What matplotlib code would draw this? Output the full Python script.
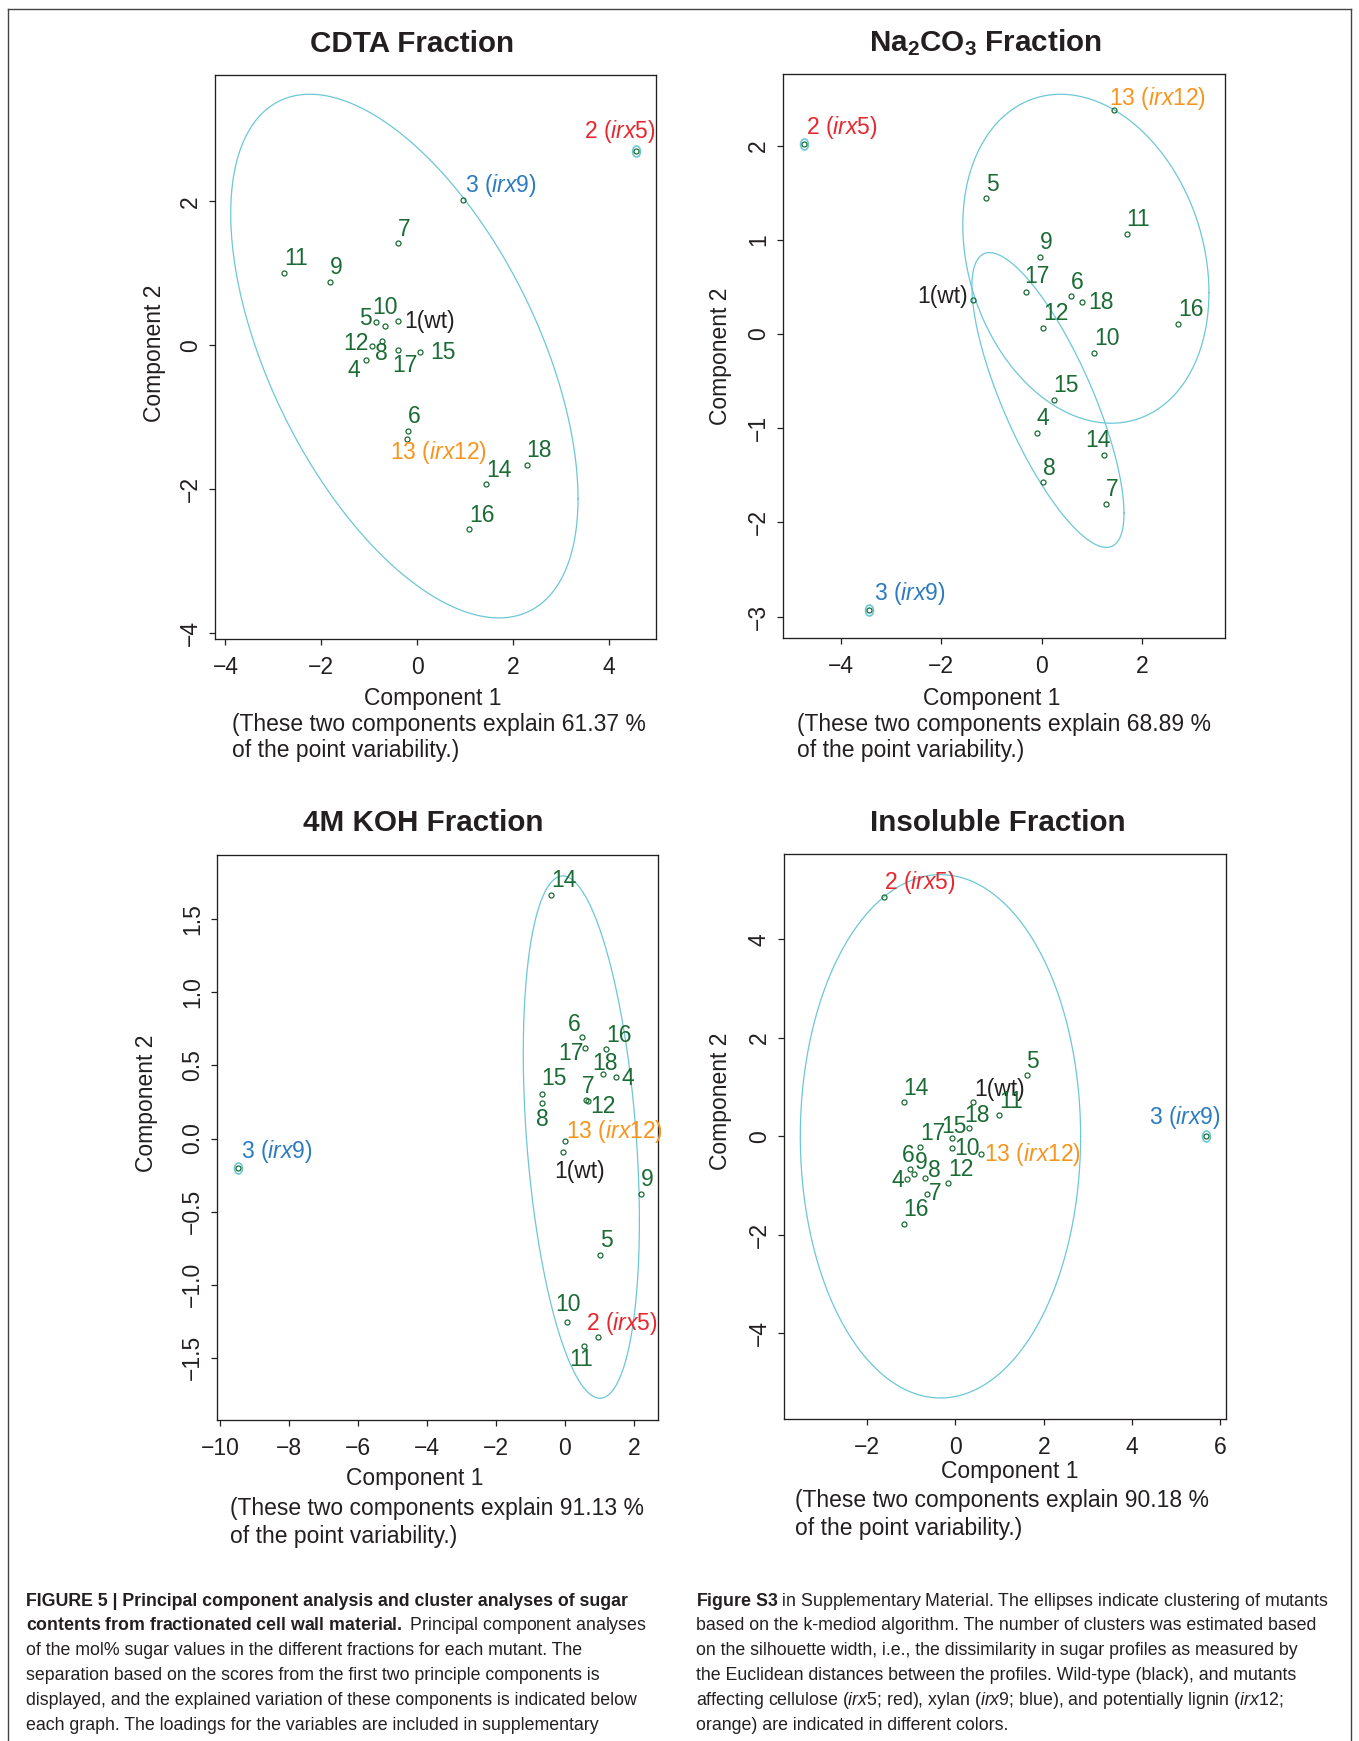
import numpy as np
import matplotlib
matplotlib.use("Agg")
import matplotlib.pyplot as plt
from matplotlib.path import Path
from matplotlib.transforms import Affine2D
from matplotlib.lines import Line2D

# ---- data ----
ids = list(range(1, 19))

cdta_x = [-0.397, 4.55, 0.957, -1.07, -0.867, -0.20, -0.397, -0.74, -1.82,
          -0.668, -2.78, -0.94, -0.22, 1.44, 0.06, 1.08, -0.41, 2.28]
cdta_y = [0.334, 2.70, 2.02, -0.205, 0.32, -1.19, 1.42, 0.06, 0.88,
          0.265, 1.01, -0.005, -1.30, -1.93, -0.10, -2.56, -0.07, -1.66]
cdta_ell = [(-0.27, -0.15, 13.1, -7.17, 13.25)]   # cx, cy, sxx, sxy, syy
cdta_single = [2]
cdta_pct = "61.37"

na_x = [-1.376, -4.734, -3.43, -0.098, -1.10, 0.584, 1.28, 0.023, -0.04,
        1.05, 1.69, 0.03, 1.43, 1.24, 0.24, 2.71, -0.32, 0.81]
na_y = [0.363, 2.016, -2.926, -1.046, 1.445, 0.40, -1.80, -1.574, 0.823,
        -0.196, 1.065, 0.068, 2.375, -1.279, -0.698, 0.11, 0.448, 0.337]
na_ell = [(0.88, 0.80, 6.0, -0.88, 3.05), (0.125, -0.70, 2.29, -1.82, 2.45)]
na_single = [2, 3]
na_pct = "68.89"

koh_x = [-0.06, 0.97, -9.485, 1.498, 1.02, 0.493, 0.618, -0.663, 2.214,
         0.065, 0.543, 0.668, 0.015, -0.387, -0.663, 1.196, 0.593, 1.12]
koh_y = [-0.092, -1.357, -0.204, 0.418, -0.796, 0.694, 0.265, 0.241, -0.378,
         -1.252, -1.418, 0.258, -0.014, 1.667, 0.303, 0.612, 0.622, 0.439]
koh_ell = [(0.48, 0.01, 2.836, -0.965, 3.19)]
koh_single = [3]
koh_pct = "91.13"

ins_x = [0.404, -1.627, 5.664, -1.097, 1.611, -1.04, -0.636, -0.695, -0.93,
         -0.076, 0.983, -0.165, 0.571, -1.176, -0.086, -1.176, -0.80, 0.316]
ins_y = [0.687, 4.859, 0.0, -0.869, 1.242, -0.667, -1.162, -0.848, -0.768,
         -0.242, 0.424, -0.95, -0.364, 0.687, -0.04, -1.778, -0.222, 0.162]
ins_ell = [(-0.34, 0.0, 10.08, 0.0, 28.2)]
ins_single = [3]
ins_pct = "90.18"

# ---- style ----
W, H, DPI = 1359, 1741, 100
GREEN = "#1b6b34"
CYAN = "#6cc7d6"
RED = "#e8262d"
BLUE = "#2a7bc0"
ORANGE = "#f7941d"
INK = "#231f20"
FS = 16.5
CAP_FS = 12.8

plt.rcParams["font.family"] = ["Liberation Sans", "DejaVu Sans"]
plt.rcParams["mathtext.fontset"] = "custom"
plt.rcParams["mathtext.rm"] = "Liberation Sans"
plt.rcParams["mathtext.it"] = "Liberation Sans:italic"
plt.rcParams["mathtext.bf"] = "Liberation Sans:bold"
plt.rcParams["axes.unicode_minus"] = True


def label_of(i):
    if i == 1:
        return "1(wt)", INK
    if i == 2:
        return r"2 ($\mathit{irx5}$)", RED
    if i == 3:
        return r"3 ($\mathit{irx9}$)", BLUE
    if i == 13:
        return r"13 ($\mathit{irx12}$)", ORANGE
    return str(i), GREEN


# label offsets in pixels (dx, dy up, alignment); default is just above-right
cdta_off = {2: (-51.6, 19.3, "left"), 3: (2.2, 14.3, "left"), 5: (-3.5, 4, "right"),
            10: (0, 18.8, "center"), 1: (6, 0, "left"), 12: (-3.5, 2.5, "right"),
            8: (0, -12.8, "center"), 17: (-5.2, -15.3, "left"), 15: (10.4, 0, "left"),
            4: (-5.6, -10, "right"), 13: (-16.5, -13.8, "left")}
na_off = {2: (1.7, 16.3, "left"), 13: (-4.3, 11.9, "left"), 1: (-4.3, 3, "right"),
          18: (6, 0, "left"), 14: (-18.6, 14.3, "left"), 3: (4.3, 16.3, "left"),
          17: (-1, 15, "left")}
koh_off = {6: (-13.9, 12.3, "left"), 17: (-2, -6, "right"), 18: (-10.8, 10.9, "left"),
           4: (4.8, -1, "left"), 15: (-1, 15.3, "left"), 8: (0, -15.9, "center"),
           7: (-4.3, 12.8, "left"), 12: (2.6, -5.9, "left"), 13: (0.4, 8.9, "left"),
           1: (-8.7, -19.3, "left"), 10: (-11.3, 16.9, "left"), 2: (-12.1, 13.3, "left"),
           11: (-14.7, -13.9, "left"), 3: (3, 17.3, "left")}
ins_off = {18: (-5.2, 13.3, "left"), 15: (-10, 11.4, "left"), 10: (2.6, 0, "left"),
           13: (3.5, 0, "left"), 6: (-7.4, 13.3, "left"), 9: (0, 11.9, "left"),
           4: (-2.6, -1.5, "right"), 8: (3, 7.4, "left"), 7: (1.7, 0, "left"),
           3: (-56.4, 18.8, "left"), 1: (1.3, 12.8, "left")}

oval = Path.unit_circle().transformed(Affine2D().scale(0.72, 1.0))
tt = np.linspace(0, 2 * np.pi, 400)

fig = plt.figure(figsize=(W / DPI, H / DPI), dpi=DPI)


def fx(px):
    return px / W


def fy(py):
    return 1 - py / H


def panel(box, xs, ys, ells, singles, offs, xlim, ylim, xticks, yticks,
          title, title_at, xlab_at, ylab_at, note_at, pct):
    l, t, r, b = box
    ax = fig.add_axes([fx(l), fy(b), (r - l) / W, (b - t) / H])
    for cx, cy, sxx, sxy, syy in ells:
        L = np.linalg.cholesky(np.array([[sxx, sxy], [sxy, syy]]))
        e = L @ np.vstack([np.cos(tt), np.sin(tt)])
        ax.plot(cx + e[0], cy + e[1], color=CYAN, lw=0.9)
    for i in singles:
        ax.plot(xs[i - 1], ys[i - 1], marker=oval, ms=7.9, mfc="none",
                mec=CYAN, mew=1.2, ls="none")
    ax.plot(xs, ys, "o", ms=3.6, mfc="none", mec=GREEN, mew=0.9, ls="none")
    for i, x, y in zip(ids, xs, ys):
        txt, col = label_of(i)
        dx, dy, ha = offs.get(i, (0, 14, "left"))
        ax.annotate(txt, (x, y), xytext=(dx, dy), textcoords="offset pixels",
                    ha=ha, va="center", color=col, fontsize=FS,
                    annotation_clip=False)
    ax.set_xlim(*xlim)
    ax.set_ylim(*ylim)
    ax.set_xticks(xticks)
    ax.set_yticks(yticks)
    ax.tick_params(length=4.5, width=0.9, labelsize=FS, color=INK, labelcolor=INK)
    ax.tick_params(axis="x", pad=8)
    ax.tick_params(axis="y", pad=5, labelrotation=90)
    for lab in ax.get_yticklabels():
        lab.set_va("center")
    for s in ax.spines.values():
        s.set_linewidth(0.95)
        s.set_color(INK)

    fig.text(fx(title_at[0]), fy(title_at[1]), title, ha="center", va="baseline",
             fontsize=21.3, fontweight="bold", color=INK)
    fig.text(fx(xlab_at[0]), fy(xlab_at[1]), "Component 1", ha="center",
             va="center", fontsize=FS, color=INK)
    fig.text(fx(ylab_at[0]), fy(ylab_at[1]), "Component 2", ha="center",
             va="center", rotation=90, fontsize=FS, color=INK)
    fig.text(fx(note_at[0]), fy(note_at[1]),
             "(These two components explain " + pct + " %",
             ha="left", va="center", fontsize=FS, color=INK)
    fig.text(fx(note_at[0]), fy(note_at[2]), "of the point variability.)",
             ha="left", va="center", fontsize=FS, color=INK)
    return ax


panel((215, 74.6, 656, 639), cdta_x, cdta_y, cdta_ell, cdta_single, cdta_off,
      (-4.217, 4.975), (-4.083, 3.763), [-4, -2, 0, 2, 4], [-4, -2, 0, 2],
      "CDTA Fraction", (412, 52), (433, 698), (154, 353), (232, 724, 751), cdta_pct)

panel((783, 73.6, 1225, 638), na_x, na_y, na_ell, na_single, na_off,
      (-5.148, 3.649), (-3.227, 2.766), [-4, -2, 0, 2], [-3, -2, -1, 0, 1, 2],
      r"$\mathbf{Na_2CO_3}$ Fraction", (985.5, 51), (991.6, 698), (720, 356),
      (797, 724, 751), na_pct)

panel((217, 854.6, 658, 1420), koh_x, koh_y, koh_ell, koh_single, koh_off,
      (-10.088, 2.704), (-1.925, 1.942), [-10, -8, -6, -4, -2, 0, 2],
      [-1.5, -1.0, -0.5, 0.0, 0.5, 1.0, 1.5],
      "4M KOH Fraction", (423.5, 831), (415, 1479), (146.6, 1103),
      (230, 1509, 1537), koh_pct)

panel((784, 853.6, 1226, 1419), ins_x, ins_y, ins_ell, ins_single, ins_off,
      (-3.884, 6.128), (-5.737, 5.737), [-2, 0, 2, 4, 6], [-4, -2, 0, 2, 4],
      "Insoluble Fraction", (998, 831), (1010, 1471.5), (720, 1101),
      (795, 1501, 1529), ins_pct)

# outer frame (top, left, right; bottom runs off the page)
for xs_, ys_ in [((8, 1351), (9, 9)), ((8, 8), (9, H + 5)), ((1351, 1351), (9, H + 5))]:
    fig.add_artist(Line2D([fx(v) for v in xs_], [fy(v) for v in ys_],
                          color="#444444", lw=1.0))

# caption
left_rows = [
    ("FIGURE 5 | Principal component analysis and cluster analyses of sugar", "bold"),
    (r"$\mathbf{contents\ from\ fractionated\ cell\ wall\ material.}$ Principal component analyses", "normal"),
    ("of the mol% sugar values in the different fractions for each mutant. The", "normal"),
    ("separation based on the scores from the first two principle components is", "normal"),
    ("displayed, and the explained variation of these components is indicated below", "normal"),
    ("each graph. The loadings for the variables are included in supplementary", "normal"),
]
right_rows = [
    (r"$\mathbf{Figure\ S3}$ in Supplementary Material. The ellipses indicate clustering of mutants", "normal"),
    ("based on the k-mediod algorithm. The number of clusters was estimated based", "normal"),
    ("on the silhouette width, i.e., the dissimilarity in sugar profiles as measured by", "normal"),
    ("the Euclidean distances between the profiles. Wild-type (black), and mutants", "normal"),
    (r"affecting cellulose ($\mathit{irx5}$; red), xylan ($\mathit{irx9}$; blue), and potentially lignin ($\mathit{irx12}$;", "normal"),
    ("orange) are indicated in different colors.", "normal"),
]
for k, (s, w) in enumerate(left_rows):
    fig.text(fx(26), fy(1601 + 24.8 * k), s, ha="left", va="center",
             fontsize=CAP_FS, fontweight=w, color=INK)
for k, (s, w) in enumerate(right_rows):
    fig.text(fx(696), fy(1601 + 24.8 * k), s, ha="left", va="center",
             fontsize=CAP_FS, fontweight=w, color=INK)

fig.savefig("out.png", dpi=DPI)
